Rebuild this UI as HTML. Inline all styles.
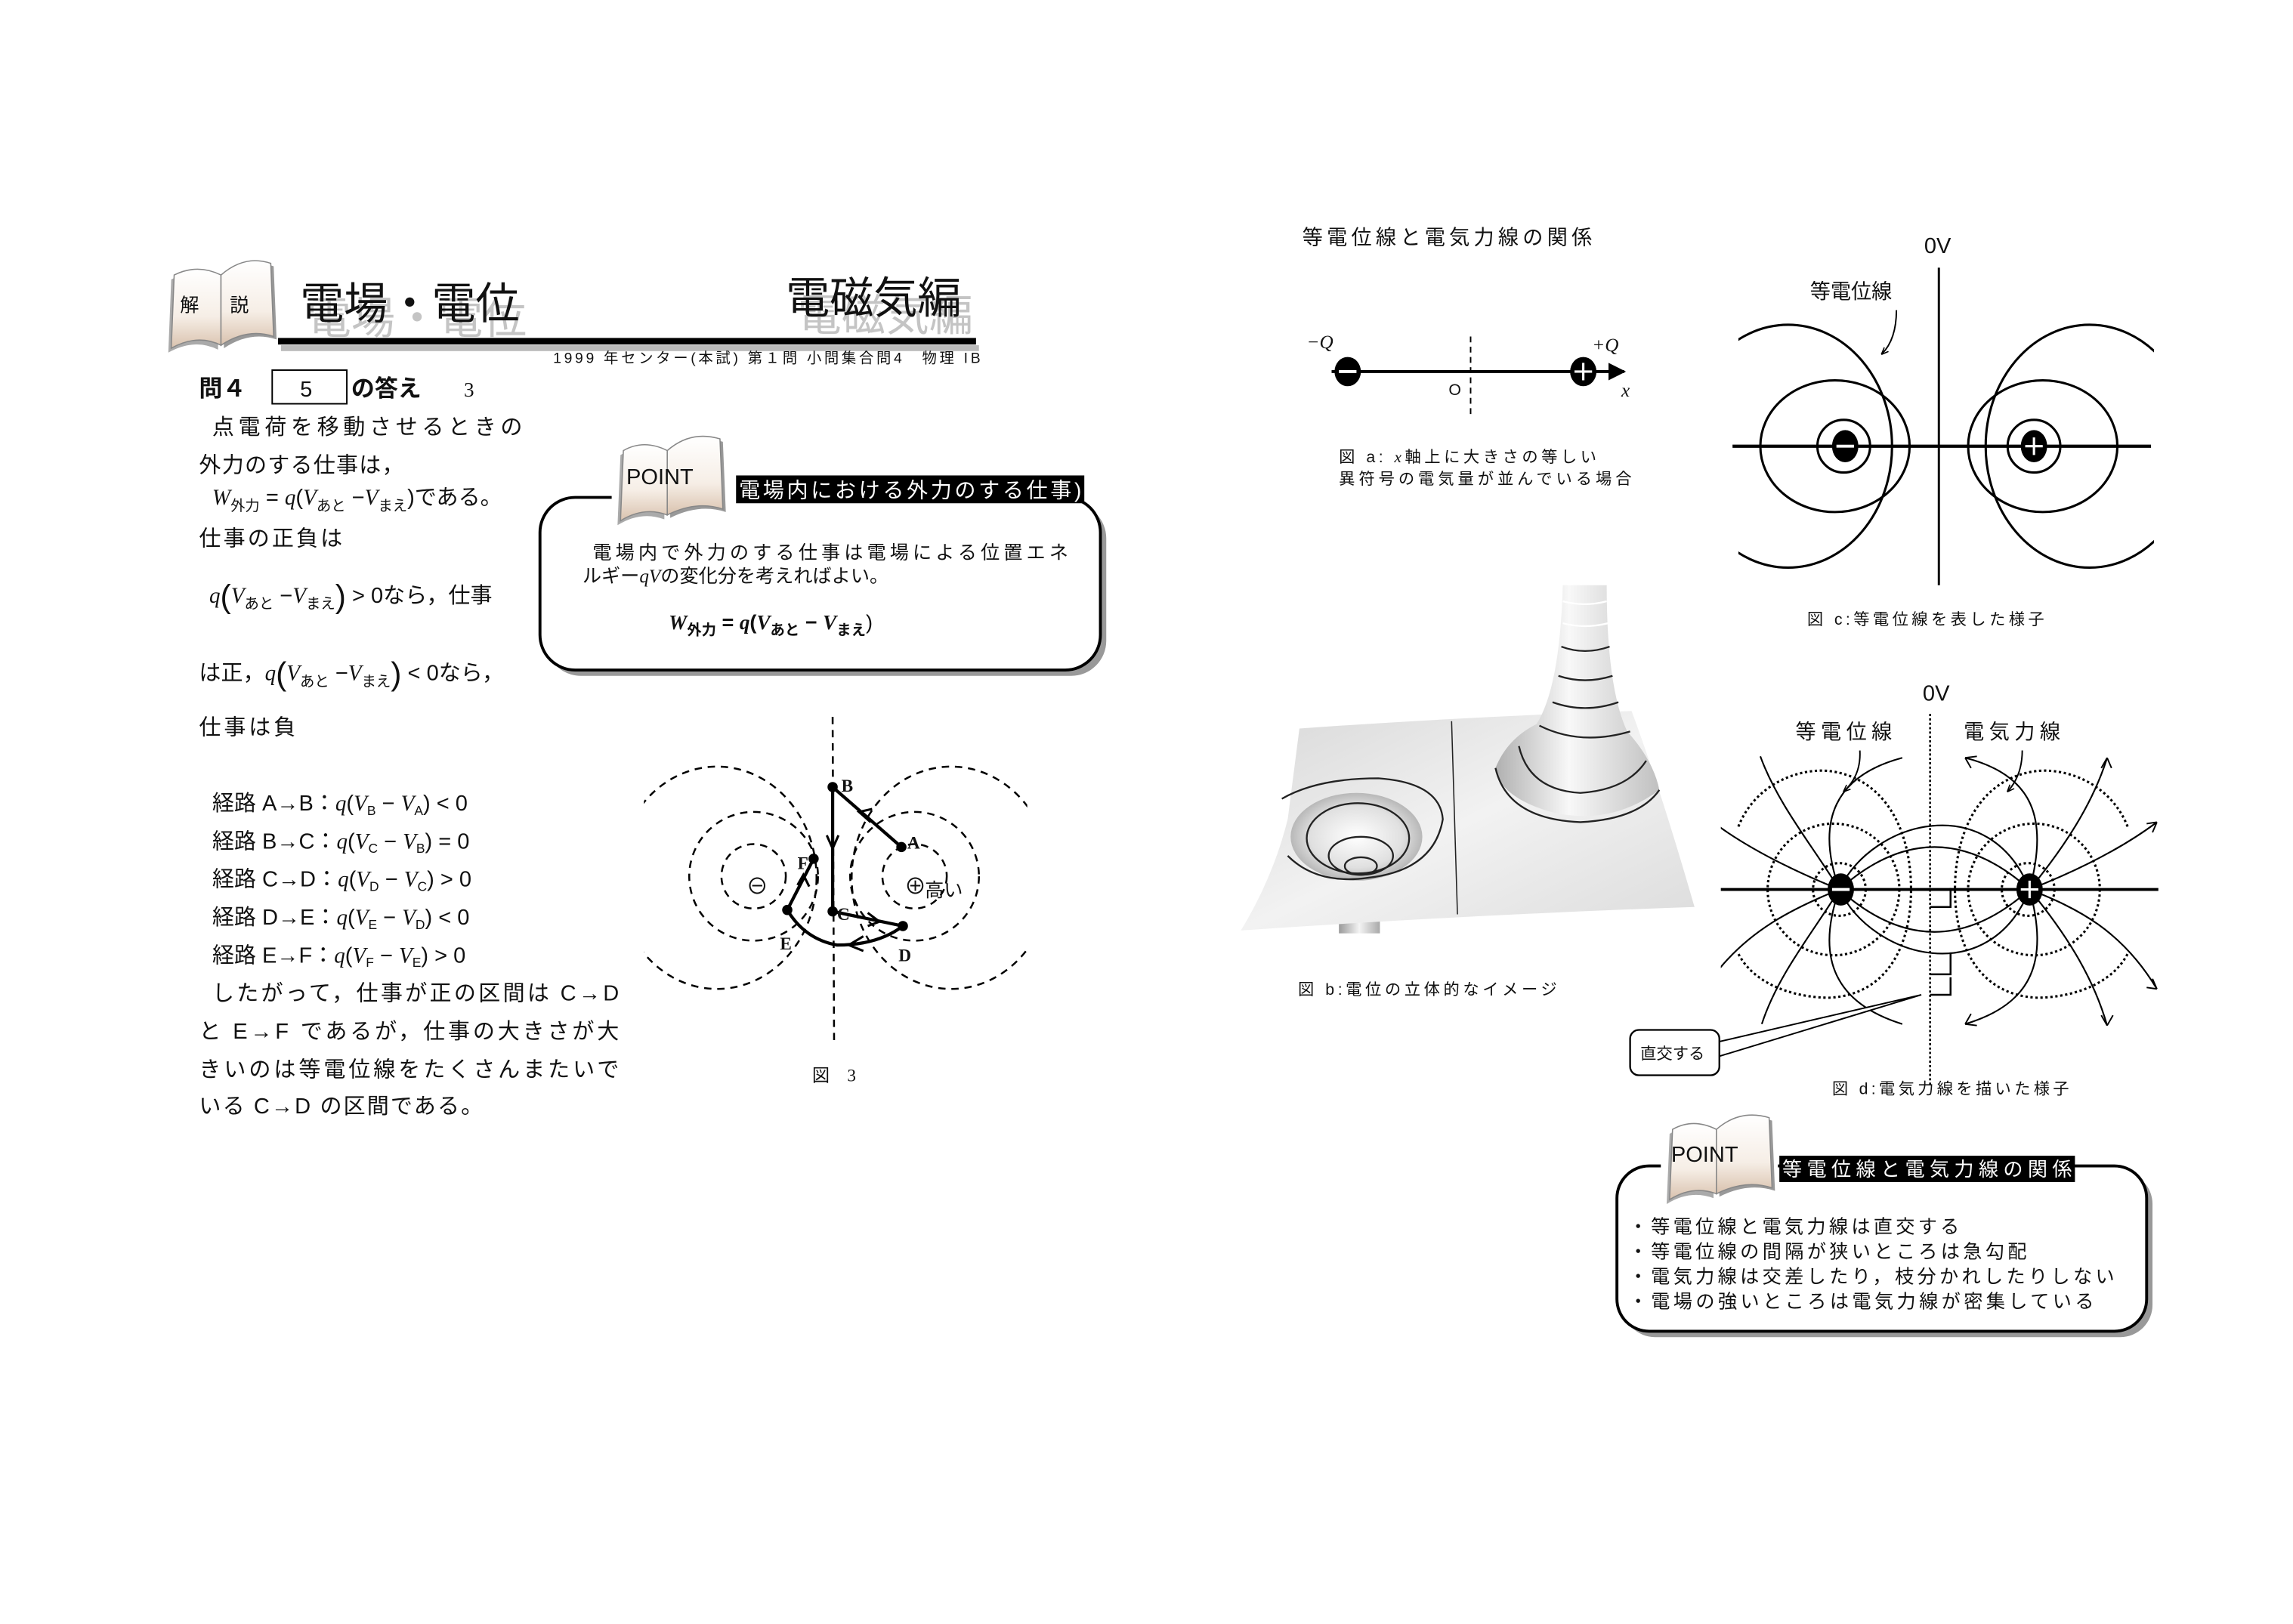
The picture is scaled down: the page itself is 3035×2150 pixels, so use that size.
<!DOCTYPE html>
<html><head><meta charset="utf-8"><style>
html,body{margin:0;padding:0;background:#fff;}
svg{display:block;}
text{font-family:"Liberation Sans","Noto Sans CJK JP",sans-serif;fill:#111;}
.m{font-family:"Liberation Serif","Noto Sans CJK JP",serif;font-style:italic;}
.s{font-family:"Liberation Serif",serif;}
</style></head><body>
<svg width="3035" height="2150" viewBox="0 0 1567 1110.1" xmlns="http://www.w3.org/2000/svg">
<defs>
<linearGradient id="pg" x1="0" y1="0" x2="0" y2="1"><stop offset="0" stop-color="#ffffff"/><stop offset="0.6" stop-color="#f6eee6"/><stop offset="1" stop-color="#d9c2ae"/></linearGradient>
<linearGradient id="surf" x1="0" y1="0" x2="1" y2="1"><stop offset="0" stop-color="#d8d8d8"/><stop offset="0.5" stop-color="#f2f2f2"/><stop offset="1" stop-color="#dcdcdc"/></linearGradient>
<linearGradient id="tube" x1="0" y1="0" x2="1" y2="0"><stop offset="0" stop-color="#9a9a9a"/><stop offset="0.5" stop-color="#f4f4f4"/><stop offset="1" stop-color="#a8a8a8"/></linearGradient>
<linearGradient id="bell" x1="0" y1="0" x2="1" y2="0"><stop offset="0" stop-color="#b0b0b0"/><stop offset="0.45" stop-color="#f8f8f8"/><stop offset="1" stop-color="#c0c0c0"/></linearGradient>
<radialGradient id="well" cx="0.5" cy="0.5" r="0.5"><stop offset="0" stop-color="#fff"/><stop offset="0.7" stop-color="#e0e0e0"/><stop offset="1" stop-color="#b8b8b8"/></radialGradient>
<clipPath id="c3"><rect x="440" y="485" width="262" height="230"/></clipPath>
<clipPath id="cc"><rect x="1188" y="215" width="284" height="185"/></clipPath>
<clipPath id="cd"><rect x="1176" y="515" width="300" height="188"/></clipPath>
<marker id="ar" viewBox="0 0 10 10" refX="9" refY="5" markerWidth="5" markerHeight="5" orient="auto"><path d="M0 1 L10 5 L0 9" fill="none" stroke="#000" stroke-width="1.6"/></marker>
<marker id="af" viewBox="0 0 10 10" refX="9" refY="5" markerWidth="6" markerHeight="6" orient="auto"><path d="M0 0 L10 5 L0 10 Z" fill="#000"/></marker>
</defs>

<!-- ===== Header ===== -->
<g transform="translate(113,176)">
  <path d="M6 12 Q22 4 38 12 L38 60 Q22 52 4 62 Z" fill="#aaa" transform="translate(-2,3)"/>
  <path d="M6 12 Q22 4 38 12 L38 60 Q22 52 4 62 Z" fill="url(#pg)" stroke="#888" stroke-width="0.8"/>
  <path d="M38 12 Q54 -2 72 4 L74 54 Q56 48 38 60 Z" fill="#999" transform="translate(2,2)"/>
  <path d="M38 12 Q54 -2 72 4 L74 54 Q56 48 38 60 Z" fill="url(#pg)" stroke="#888" stroke-width="0.8"/>
  <text x="10" y="37" font-size="13">解</text><text x="44" y="37" font-size="13">説</text>
</g>
<text x="210" y="228" font-size="30" style="fill:#c4c4c4">電場・電位</text>
<text x="545" y="226" font-size="30" style="fill:#c4c4c4">電磁気編</text>
<text x="205" y="218" font-size="30">電場・電位</text>
<text x="537" y="214" font-size="30">電磁気編</text>
<rect x="192" y="236" width="477" height="4" fill="#bbb"/>
<rect x="190" y="231" width="477" height="4.5" fill="#000"/>
<text x="670" y="248" font-size="10" text-anchor="end" textLength="292" lengthAdjust="spacing">1999 年センター(本試) 第１問 小問集合問4　物理 IB</text>

<!-- ===== Left text ===== -->
<text x="136" y="271" font-size="16" font-weight="bold">問４</text>
<rect x="186" y="253" width="51" height="23" fill="none" stroke="#000" stroke-width="1"/>
<text x="205" y="271" font-size="15">5</text>
<text x="240" y="271" font-size="16" font-weight="bold">の答え</text>
<text x="317" y="271" font-size="14" class="s">3</text>

<g font-size="15">
<text x="145" y="297" textLength="212" lengthAdjust="spacing">点電荷を移動させるときの</text>
<text x="136" y="323" textLength="140" lengthAdjust="spacing">外力のする仕事は，</text>
<text x="145" y="345"><tspan class="m">W</tspan><tspan font-size="10" dy="4">外力</tspan><tspan dy="-4"> = </tspan><tspan class="m">q</tspan>(<tspan class="m">V</tspan><tspan font-size="10" dy="4">あと</tspan><tspan dy="-4"> −</tspan><tspan class="m">V</tspan><tspan font-size="10" dy="4">まえ</tspan><tspan dy="-4">)である。</tspan></text>
<text x="136" y="373" textLength="98" lengthAdjust="spacing">仕事の正負は</text>
<text x="143" y="412"><tspan class="m">q</tspan><tspan font-size="22" dy="3">(</tspan><tspan class="m" dy="-3">V</tspan><tspan font-size="10" dy="4">あと</tspan><tspan dy="-4"> −</tspan><tspan class="m">V</tspan><tspan font-size="10" dy="4">まえ</tspan><tspan font-size="22" dy="-1">)</tspan><tspan dy="-3"> &gt; 0なら，仕事</tspan></text>
<text x="136" y="465">は正，<tspan class="m">q</tspan><tspan font-size="22" dy="3">(</tspan><tspan class="m" dy="-3">V</tspan><tspan font-size="10" dy="4">あと</tspan><tspan dy="-4"> −</tspan><tspan class="m">V</tspan><tspan font-size="10" dy="4">まえ</tspan><tspan font-size="22" dy="-1">)</tspan><tspan dy="-3"> &lt; 0なら，</tspan></text>
<text x="136" y="502" textLength="66" lengthAdjust="spacing">仕事は負</text>
<text x="145" y="554">経路 A→B：<tspan class="m">q</tspan>(<tspan class="m">V</tspan><tspan font-size="9" dy="3">B</tspan><tspan dy="-3"> − </tspan><tspan class="m">V</tspan><tspan font-size="9" dy="3">A</tspan><tspan dy="-3">) &lt; 0</tspan></text>
<text x="145" y="580">経路 B→C：<tspan class="m">q</tspan>(<tspan class="m">V</tspan><tspan font-size="9" dy="3">C</tspan><tspan dy="-3"> − </tspan><tspan class="m">V</tspan><tspan font-size="9" dy="3">B</tspan><tspan dy="-3">) = 0</tspan></text>
<text x="145" y="606">経路 C→D：<tspan class="m">q</tspan>(<tspan class="m">V</tspan><tspan font-size="9" dy="3">D</tspan><tspan dy="-3"> − </tspan><tspan class="m">V</tspan><tspan font-size="9" dy="3">C</tspan><tspan dy="-3">) &gt; 0</tspan></text>
<text x="145" y="632">経路 D→E：<tspan class="m">q</tspan>(<tspan class="m">V</tspan><tspan font-size="9" dy="3">E</tspan><tspan dy="-3"> − </tspan><tspan class="m">V</tspan><tspan font-size="9" dy="3">D</tspan><tspan dy="-3">) &lt; 0</tspan></text>
<text x="145" y="658">経路 E→F：<tspan class="m">q</tspan>(<tspan class="m">V</tspan><tspan font-size="9" dy="3">F</tspan><tspan dy="-3"> − </tspan><tspan class="m">V</tspan><tspan font-size="9" dy="3">E</tspan><tspan dy="-3">) &gt; 0</tspan></text>
<text x="145" y="684" textLength="278" lengthAdjust="spacing">したがって，仕事が正の区間は C→D</text>
<text x="136" y="710" textLength="287" lengthAdjust="spacing">と E→F であるが，仕事の大きさが大</text>
<text x="136" y="736" textLength="287" lengthAdjust="spacing">きいのは等電位線をたくさんまたいで</text>
<text x="136" y="761" textLength="194" lengthAdjust="spacing">いる C→D の区間である。</text>
</g>

<!-- ===== POINT box 1 ===== -->
<rect x="373" y="344" width="383" height="118" rx="24" fill="#999"/>
<rect x="369" y="340" width="383" height="118" rx="24" fill="#fff" stroke="#000" stroke-width="2"/>
<rect x="418" y="326" width="86" height="20" fill="#fff"/>
<g transform="translate(420,296)">
  <path d="M6 12 Q20 4 36 12 L36 56 Q20 50 4 60 Z" fill="#aaa" transform="translate(-2,3)"/>
  <path d="M6 12 Q20 4 36 12 L36 56 Q20 50 4 60 Z" fill="url(#pg)" stroke="#888" stroke-width="0.8"/>
  <path d="M36 12 Q52 -2 72 4 L74 52 Q56 46 36 56 Z" fill="#999" transform="translate(2,2)"/>
  <path d="M36 12 Q52 -2 72 4 L74 52 Q56 46 36 56 Z" fill="url(#pg)" stroke="#888" stroke-width="0.8"/>
  <text x="8" y="35" font-size="15">POINT</text>
</g>
<rect x="503" y="325" width="238" height="19" fill="#000"/>
<text x="505" y="340" font-size="14.5" style="fill:#fff" textLength="234" lengthAdjust="spacing">電場内における外力のする仕事)</text>
<text x="405" y="382" font-size="13" textLength="325" lengthAdjust="spacing">電場内で外力のする仕事は電場による位置エネ</text>
<text x="398" y="398" font-size="13">ルギー<tspan class="m">qV</tspan>の変化分を考えればよい。</text>
<text x="457" y="430" font-size="14" font-weight="bold"><tspan class="m">W</tspan><tspan font-size="10" dy="4">外力</tspan><tspan dy="-4"> = </tspan><tspan class="m">q</tspan>(<tspan class="m">V</tspan><tspan font-size="10" dy="4">あと</tspan><tspan dy="-4"> − </tspan><tspan class="m">V</tspan><tspan font-size="10" dy="4">まえ</tspan><tspan dy="-4" font-weight="normal">)</tspan></text>

<!-- ===== Figure 3 ===== -->
<g fill="none" stroke="#000" stroke-width="1.3" stroke-dasharray="5,4">
  <line x1="569" y1="490" x2="570" y2="712"/>
  <circle cx="515" cy="599" r="22"/><circle cx="515" cy="599" r="44"/>
  <circle cx="625" cy="599" r="22"/><circle cx="625" cy="599" r="44"/>
  <g clip-path="url(#c3)">
    <ellipse cx="490" cy="600" rx="68" ry="76"/>
    <ellipse cx="650" cy="600" rx="68" ry="76"/>
  </g>
</g>
<g stroke="#000" stroke-width="2.2" fill="none">
  <line x1="616" y1="579" x2="569" y2="538"/>
  <path d="M595 562 L587 555 L596 553" stroke-width="1.6"/>
  <line x1="569" y1="538" x2="569" y2="623"/>
  <path d="M565 571 L569 580 L573 571" stroke-width="1.6"/>
  <line x1="569" y1="623" x2="617" y2="633"/>
  <path d="M593 624 L601 630 L593 633" stroke-width="1.6"/>
  <path d="M617 633 Q600 646 572 646 Q550 642 538 622"/>
  <path d="M590 640 L580 646 L590 650" stroke-width="1.6"/>
  <line x1="538" y1="622" x2="556" y2="587"/>
  <path d="M545 605 L549 598 L553 606" stroke-width="1.6"/>
</g>
<g fill="#000"><circle cx="616" cy="579" r="3.5"/><circle cx="569" cy="538" r="3.5"/><circle cx="569" cy="623" r="3.5"/><circle cx="617" cy="633" r="3.5"/><circle cx="538" cy="622" r="3.5"/><circle cx="556" cy="587" r="3.5"/></g>
<g font-size="12" font-weight="bold">
<text x="575" y="541" class="s">B</text><text x="620" y="580" class="s">A</text><text x="572" y="629" class="s">C</text><text x="614" y="657" class="s">D</text><text x="533" y="649" class="s">E</text><text x="545" y="594" class="s">F</text>
</g>
<text x="510" y="611" font-size="15">⊖</text>
<text x="618" y="611" font-size="15">⊕</text>
<text x="632" y="613" font-size="13">高い</text>
<text x="555" y="739" font-size="12">図　<tspan class="s">3</tspan></text>

<!-- ===== Right title ===== -->
<text x="890" y="167" font-size="14" textLength="198" lengthAdjust="spacing">等電位線と電気力線の関係</text>

<!-- Fig a -->
<line x1="910" y1="254" x2="1110" y2="254" stroke="#000" stroke-width="2" marker-end="url(#af)"/>
<line x1="1005" y1="230" x2="1005" y2="285" stroke="#000" stroke-width="1" stroke-dasharray="4,3"/>
<ellipse cx="921" cy="254" rx="9" ry="10" fill="#000"/><line x1="915" y1="254" x2="927" y2="254" stroke="#fff" stroke-width="2"/>
<ellipse cx="1082" cy="254" rx="9" ry="10" fill="#000"/><path d="M1076 254 H1088 M1082 248 V260" stroke="#fff" stroke-width="1.6"/>
<text x="893" y="238" font-size="13" class="m">−Q</text>
<text x="1088" y="240" font-size="13" class="m">+Q</text>
<text x="990" y="270" font-size="11">O</text>
<text x="1108" y="271" font-size="13" class="m">x</text>
<text x="915" y="316" font-size="11" textLength="176" lengthAdjust="spacing">図 a: <tspan class="m">x</tspan>軸上に大きさの等しい</text>
<text x="915" y="331" font-size="11" textLength="200" lengthAdjust="spacing">異符号の電気量が並んでいる場合</text>

<!-- Fig b (3D surface) -->
<rect x="915" y="615" width="28" height="23" fill="url(#tube)"/>
<path d="M888 498 Q1000 490 1115 486 Q1135 540 1158 620 Q1010 625 848 636 Q870 600 880 560 Z" fill="url(#surf)"/>
<path d="M1068 400 L1098 400 Q1098 470 1112 500 Q1130 520 1134 540 Q1100 565 1060 555 Q1025 545 1022 525 Q1030 505 1050 495 Q1066 470 1068 400 Z" fill="url(#bell)"/>
<g fill="none" stroke="#222" stroke-width="1.2">
  <path d="M1022 525 Q1030 560 1080 562 Q1120 560 1134 540"/>
  <path d="M1038 510 Q1045 540 1080 542 Q1112 540 1125 520"/>
  <path d="M1052 496 Q1080 510 1114 500"/>
  <path d="M1061 480 Q1083 488 1106 480"/>
  <path d="M1065 462 Q1083 468 1102 462"/>
  <path d="M1067 442 Q1083 448 1100 442"/>
  <path d="M1068 426 Q1083 430 1099 426" stroke="#fff"/>
  <path d="M1068 411 Q1083 415 1098 411" stroke="#fff"/>
  <line x1="992" y1="493" x2="996" y2="625" stroke-width="0.8"/>
</g>
<ellipse cx="927" cy="572" rx="45" ry="30" fill="url(#well)"/>
<g fill="none" stroke="#222" stroke-width="1.2">
  <path d="M880 585 Q900 605 935 600 Q980 595 986 560 Q984 535 942 532 Q900 532 876 546"/>
  <ellipse cx="928" cy="573" rx="35" ry="24"/>
  <ellipse cx="930" cy="585" rx="22" ry="13"/>
  <ellipse cx="930" cy="592" rx="11" ry="6"/>
</g>
<text x="887" y="680" font-size="11" textLength="177" lengthAdjust="spacing">図 b:電位の立体的なイメージ</text>

<!-- Fig c -->
<text x="1315" y="173" font-size="15">0V</text>
<text x="1237" y="204" font-size="14">等電位線</text>
<path d="M1296 212 Q1296 232 1286 242" fill="none" stroke="#000" stroke-width="1" marker-end="url(#ar)"/>
<line x1="1325" y1="183" x2="1325" y2="400" stroke="#000" stroke-width="1.5"/>
<line x1="1184" y1="305" x2="1470" y2="305" stroke="#000" stroke-width="2.2"/>
<g fill="none" stroke="#000" stroke-width="1.6">
  <circle cx="1260" cy="305" r="18"/><ellipse cx="1254" cy="305" rx="51" ry="45"/>
  <circle cx="1390" cy="305" r="18"/><ellipse cx="1396" cy="305" rx="51" ry="45"/>
  <g clip-path="url(#cc)"><ellipse cx="1222" cy="305" rx="71" ry="83"/><ellipse cx="1428" cy="305" rx="71" ry="83"/></g>
</g>
<ellipse cx="1261" cy="305" rx="9" ry="11" fill="#000"/><line x1="1255" y1="305" x2="1267" y2="305" stroke="#fff" stroke-width="2"/>
<ellipse cx="1390" cy="305" rx="9" ry="11" fill="#000"/><path d="M1384 305 H1396 M1390 299 V311" stroke="#fff" stroke-width="1.6"/>
<text x="1235" y="427" font-size="11" textLength="162" lengthAdjust="spacing">図 c:等電位線を表した様子</text>

<!-- Fig d -->
<text x="1314" y="479" font-size="15">0V</text>
<text x="1227" y="505" font-size="14" textLength="66" lengthAdjust="spacing">等電位線</text>
<text x="1342" y="505" font-size="14" textLength="66" lengthAdjust="spacing">電気力線</text>
<path d="M1271 513 Q1272 530 1260 541" fill="none" stroke="#000" stroke-width="1" marker-end="url(#ar)"/>
<path d="M1382 513 Q1382 530 1372 541" fill="none" stroke="#000" stroke-width="1" marker-end="url(#ar)"/>
<line x1="1319" y1="488" x2="1319" y2="742" stroke="#000" stroke-width="1.3" stroke-dasharray="1.5,1.5"/>
<line x1="1176" y1="608" x2="1475" y2="608" stroke="#000" stroke-width="2"/>
<g fill="none" stroke="#000" stroke-width="1.6" stroke-dasharray="1.6,1.8">
  <circle cx="1257" cy="608" r="18"/><circle cx="1253" cy="608" r="45"/>
  <circle cx="1386" cy="608" r="18"/><circle cx="1390" cy="608" r="45"/>
  <path d="M1188 565 C1200 535 1230 525 1250 527 C1290 532 1306 570 1306 608 C1306 646 1290 680 1250 682 C1230 682 1200 675 1188 652"/>
  <path d="M1454 565 C1442 535 1412 525 1392 527 C1352 532 1336 570 1336 608 C1336 646 1352 680 1392 682 C1412 682 1442 675 1454 652"/>
</g>
<g fill="none" stroke="#000" stroke-width="1.1" clip-path="url(#cd)">
  <path d="M1257 608 Q1322 550 1387 608"/>
  <path d="M1257 608 Q1322 666 1387 608"/>
  <path d="M1257 608 C1280 560 1360 540 1387 608"/>
  <path d="M1257 608 C1280 656 1360 676 1387 608"/>
  <path d="M1257 608 C1240 560 1255 530 1300 518"/>
  <path d="M1257 608 C1240 656 1255 686 1300 700"/>
  <path d="M1387 608 C1400 560 1390 530 1343 518"/>
  <path d="M1387 608 C1400 656 1390 686 1343 700"/>
  <path d="M1257 608 C1240 580 1215 550 1203 517"/>
  <path d="M1257 608 C1225 595 1195 580 1172 563"/>
  <path d="M1257 608 C1225 621 1195 636 1172 666"/>
  <path d="M1257 608 C1240 636 1215 666 1204 700"/>
  <path d="M1387 608 C1410 580 1430 550 1440 518"/>
  <path d="M1387 608 C1420 595 1450 580 1474 562"/>
  <path d="M1387 608 C1420 621 1450 636 1474 676"/>
  <path d="M1387 608 C1410 636 1430 666 1440 701"/>
</g>
<g stroke="#000" stroke-width="1" fill="none">
  <path d="M1343 518 L1351 517 M1343 518 L1347 525"/>
  <path d="M1343 700 L1351 701 M1343 700 L1347 693"/>
  <path d="M1440 518 L1436 525 M1440 518 L1443 525"/>
  <path d="M1474 562 L1467 563 M1474 562 L1471 569"/>
  <path d="M1474 676 L1467 675 M1474 676 L1471 669"/>
  <path d="M1440 701 L1436 694 M1440 701 L1444 694"/>
  <path d="M1319 620 H1333 V607 M1319 666 H1333 V651 M1319 680 H1333 V668" stroke-width="1.3"/>
</g>
<ellipse cx="1258" cy="608" rx="9" ry="11" fill="#000"/><line x1="1252" y1="608" x2="1264" y2="608" stroke="#fff" stroke-width="2"/>
<ellipse cx="1387" cy="608" rx="9" ry="11" fill="#000"/><path d="M1381 608 H1393 M1387 602 V614" stroke="#fff" stroke-width="1.6"/>
<!-- callout -->
<path d="M1175 712 L1313 680 L1175 722" fill="#fff" stroke="#000" stroke-width="1"/>
<rect x="1114" y="704" width="61" height="31" rx="6" fill="#fff" stroke="#000" stroke-width="1.2"/>
<text x="1121" y="724" font-size="11">直交する</text>
<text x="1252" y="748" font-size="11" textLength="162" lengthAdjust="spacing">図 d:電気力線を描いた様子</text>

<!-- ===== POINT box 2 ===== -->
<rect x="1109" y="801" width="362" height="113" rx="22" fill="#999"/>
<rect x="1105" y="797" width="362" height="113" rx="22" fill="#fff" stroke="#000" stroke-width="2"/>
<rect x="1135" y="785" width="80" height="20" fill="#fff"/>
<g transform="translate(1137,760)">
  <path d="M6 12 Q20 4 36 12 L36 56 Q20 50 4 60 Z" fill="#aaa" transform="translate(-2,3)"/>
  <path d="M6 12 Q20 4 36 12 L36 56 Q20 50 4 60 Z" fill="url(#pg)" stroke="#888" stroke-width="0.8"/>
  <path d="M36 12 Q52 -2 72 4 L74 52 Q56 46 36 56 Z" fill="#999" transform="translate(2,2)"/>
  <path d="M36 12 Q52 -2 72 4 L74 52 Q56 46 36 56 Z" fill="url(#pg)" stroke="#888" stroke-width="0.8"/>
  <text x="5" y="34" font-size="15">POINT</text>
</g>
<rect x="1216" y="790" width="202" height="18" fill="#000"/>
<text x="1218" y="804" font-size="13.5" style="fill:#fff" textLength="198" lengthAdjust="spacing">等電位線と電気力線の関係</text>
<g font-size="13">
<text x="1113" y="843" textLength="226" lengthAdjust="spacing">・等電位線と電気力線は直交する</text>
<text x="1113" y="860" textLength="272" lengthAdjust="spacing">・等電位線の間隔が狭いところは急勾配</text>
<text x="1113" y="877" textLength="332" lengthAdjust="spacing">・電気力線は交差したり，枝分かれしたりしない</text>
<text x="1113" y="894" textLength="318" lengthAdjust="spacing">・電場の強いところは電気力線が密集している</text>
</g>
</svg>
</body></html>
